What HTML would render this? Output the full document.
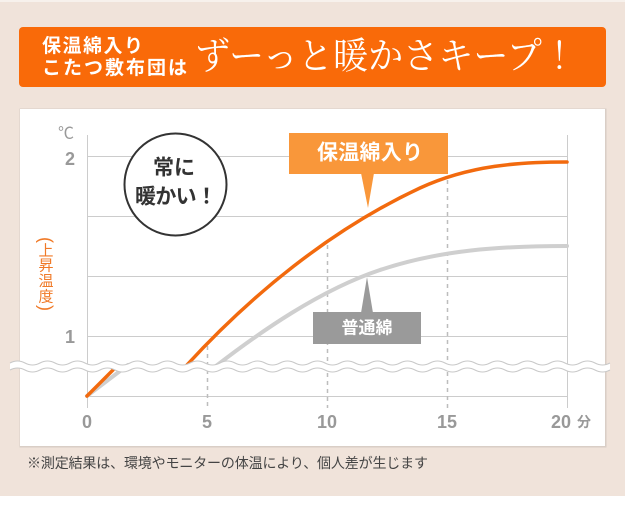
<!DOCTYPE html>
<html><head><meta charset="utf-8"><style>
html,body{margin:0;padding:0;background:#fff;}
svg{display:block;}
</style></head><body>
<svg width="625" height="523" viewBox="0 0 625 523" xmlns="http://www.w3.org/2000/svg">
<rect x="0" y="0" width="625" height="496" fill="#f0e3da"/>
<rect x="0" y="0" width="625" height="2" fill="#f7f1ec"/>
<!-- banner -->
<rect x="19" y="27" width="587" height="60" rx="4" fill="#f96a09"/>
<g font-family="'Liberation Sans','Noto Sans CJK JP',sans-serif" font-weight="bold" fill="#fff" font-size="19">
<text x="42" y="46.5" dominant-baseline="central" textLength="101" lengthAdjust="spacing">保温綿入り</text>
<text x="42" y="68.5" dominant-baseline="central" textLength="145" lengthAdjust="spacing">こたつ敷布団は</text>
</g>
<text x="195" y="57" dominant-baseline="central" font-family="'Liberation Serif','Noto Serif CJK JP','Noto Serif CJK SC',serif" font-size="37" fill="#fff" textLength="382" lengthAdjust="spacingAndGlyphs">ずーっと暖かさキープ！</text>
<!-- panel -->
<rect x="19.5" y="108.5" width="587" height="339" fill="#d9cec6"/>
<rect x="20" y="109" width="585" height="337" fill="#fff"/>
<!-- grid -->
<g stroke="#cccccc" stroke-width="1">
<line x1="87" y1="156.5" x2="567" y2="156.5"/>
<line x1="87" y1="216.5" x2="567" y2="216.5"/>
<line x1="87" y1="276.5" x2="567" y2="276.5"/>
<line x1="87" y1="336.5" x2="567" y2="336.5"/>
<line x1="87" y1="396.5" x2="567" y2="396.5"/>
<line x1="87.5" y1="135" x2="87.5" y2="408"/>
<line x1="567.5" y1="135" x2="567.5" y2="408"/>
</g>
<g stroke="#bdbdbd" stroke-width="1.5" stroke-dasharray="4,4">
<line x1="207.5" y1="346" x2="207.5" y2="408"/>
<line x1="327.5" y1="245" x2="327.5" y2="408"/>
<line x1="447.5" y1="180" x2="447.5" y2="408"/>
</g>
<!-- curves -->
<g fill="none" stroke-linecap="round">
<path d="M87,396 L128,365" stroke="#cfcfcf" stroke-width="4"/>
<path d="M87,396 L116,367" stroke="#f26a0e" stroke-width="3.5"/>
<path d="M216,366 C260,332 320,290 380,270 C440,250 500,246 567,246" stroke="#cfcfcf" stroke-width="4"/>
<path d="M186,366 C250,296 330,230 420,188 C470,165 520,162 567,162" stroke="#f26a0e" stroke-width="3.5"/>
</g>
<!-- wave break -->
<path d="M10,363 q7.5,-4 15,0 t15,0 t15,0 t15,0 t15,0 t15,0 t15,0 t15,0 t15,0 t15,0 t15,0 t15,0 t15,0 t15,0 t15,0 t15,0 t15,0 t15,0 t15,0 t15,0 t15,0 t15,0 t15,0 t15,0 t15,0 t15,0 t15,0 t15,0 t15,0 t15,0 t15,0 t15,0 t15,0 t15,0 t15,0 t15,0 t15,0 t15,0 t15,0 t15,0 L610,370 q-7.5,4 -15,0 t-15,0 t-15,0 t-15,0 t-15,0 t-15,0 t-15,0 t-15,0 t-15,0 t-15,0 t-15,0 t-15,0 t-15,0 t-15,0 t-15,0 t-15,0 t-15,0 t-15,0 t-15,0 t-15,0 t-15,0 t-15,0 t-15,0 t-15,0 t-15,0 t-15,0 t-15,0 t-15,0 t-15,0 t-15,0 t-15,0 t-15,0 t-15,0 t-15,0 t-15,0 t-15,0 t-15,0 t-15,0 t-15,0 t-15,0 Z" fill="#fff"/>
<g fill="none" stroke="#c8c8c8" stroke-width="1">
<path d="M10,363 q7.5,-4 15,0 t15,0 t15,0 t15,0 t15,0 t15,0 t15,0 t15,0 t15,0 t15,0 t15,0 t15,0 t15,0 t15,0 t15,0 t15,0 t15,0 t15,0 t15,0 t15,0 t15,0 t15,0 t15,0 t15,0 t15,0 t15,0 t15,0 t15,0 t15,0 t15,0 t15,0 t15,0 t15,0 t15,0 t15,0 t15,0 t15,0 t15,0 t15,0 t15,0"/>
<path d="M10,370 q7.5,-4 15,0 t15,0 t15,0 t15,0 t15,0 t15,0 t15,0 t15,0 t15,0 t15,0 t15,0 t15,0 t15,0 t15,0 t15,0 t15,0 t15,0 t15,0 t15,0 t15,0 t15,0 t15,0 t15,0 t15,0 t15,0 t15,0 t15,0 t15,0 t15,0 t15,0 t15,0 t15,0 t15,0 t15,0 t15,0 t15,0 t15,0 t15,0 t15,0 t15,0"/>
</g>
<!-- axis labels -->
<g font-family="'Liberation Sans','Noto Sans CJK JP',sans-serif" font-weight="bold" fill="#999" font-size="18" text-anchor="middle">
<text x="70" y="165">2</text>
<text x="70" y="343">1</text>
<text x="87" y="428">0</text>
<text x="207" y="428">5</text>
<text x="327" y="428">10</text>
<text x="447" y="428">15</text>
<text x="561" y="428">20</text>
</g>
<text x="584" y="422" dominant-baseline="central" text-anchor="middle" font-family="'Liberation Sans','Noto Sans CJK JP',sans-serif" font-weight="bold" font-size="14" fill="#999">分</text>
<text x="66" y="134" dominant-baseline="central" text-anchor="middle" font-family="'Liberation Sans','Noto Sans CJK JP',sans-serif" font-size="16" fill="#999">℃</text>
<g font-family="'Liberation Sans','Noto Sans CJK JP',sans-serif" font-size="15" fill="#f07a28" text-anchor="middle">
<text x="46" y="240" dominant-baseline="central" font-family="'Liberation Sans',sans-serif" font-size="18" transform="rotate(90 46 240)">(</text>
<text x="46" y="251" dominant-baseline="central">上</text>
<text x="46" y="266" dominant-baseline="central">昇</text>
<text x="46" y="281.5" dominant-baseline="central">温</text>
<text x="46" y="297" dominant-baseline="central">度</text>
<text x="46" y="308" dominant-baseline="central" font-family="'Liberation Sans',sans-serif" font-size="18" transform="rotate(90 46 308)">)</text>
</g>
<!-- circle -->
<circle cx="175.5" cy="184.5" r="51" fill="#fff" stroke="#333" stroke-width="2"/>
<g font-family="'Liberation Sans','Noto Sans CJK JP',sans-serif" font-weight="bold" font-size="21" fill="#333" text-anchor="middle">
<text x="174" y="168" dominant-baseline="central">常に</text>
<text x="176" y="197" dominant-baseline="central" textLength="82" lengthAdjust="spacing">暖かい！</text>
</g>
<!-- orange callout -->
<rect x="289" y="133" width="159" height="41" fill="#f9973a"/>
<polygon points="361,173 374,173 368,208" fill="#f9973a"/>
<text x="370" y="153" dominant-baseline="central" text-anchor="middle" font-family="'Liberation Sans','Noto Sans CJK JP',sans-serif" font-weight="bold" font-size="21" fill="#fff" textLength="106" lengthAdjust="spacing">保温綿入り</text>
<!-- gray callout -->
<rect x="313" y="312" width="108" height="32" fill="#9a9a9a"/>
<polygon points="361,313 373,313 367,277" fill="#9a9a9a"/>
<text x="367" y="328" dominant-baseline="central" text-anchor="middle" font-family="'Liberation Sans','Noto Sans CJK JP',sans-serif" font-weight="bold" font-size="17" fill="#fff">普通綿</text>
<!-- footnote -->
<text x="27" y="463" dominant-baseline="central" font-family="'Liberation Sans','Noto Sans CJK JP',sans-serif" font-size="14" fill="#444" textLength="401" lengthAdjust="spacing">※測定結果は、環境やモニターの体温により、個人差が生じます</text>
</svg>
</body></html>
